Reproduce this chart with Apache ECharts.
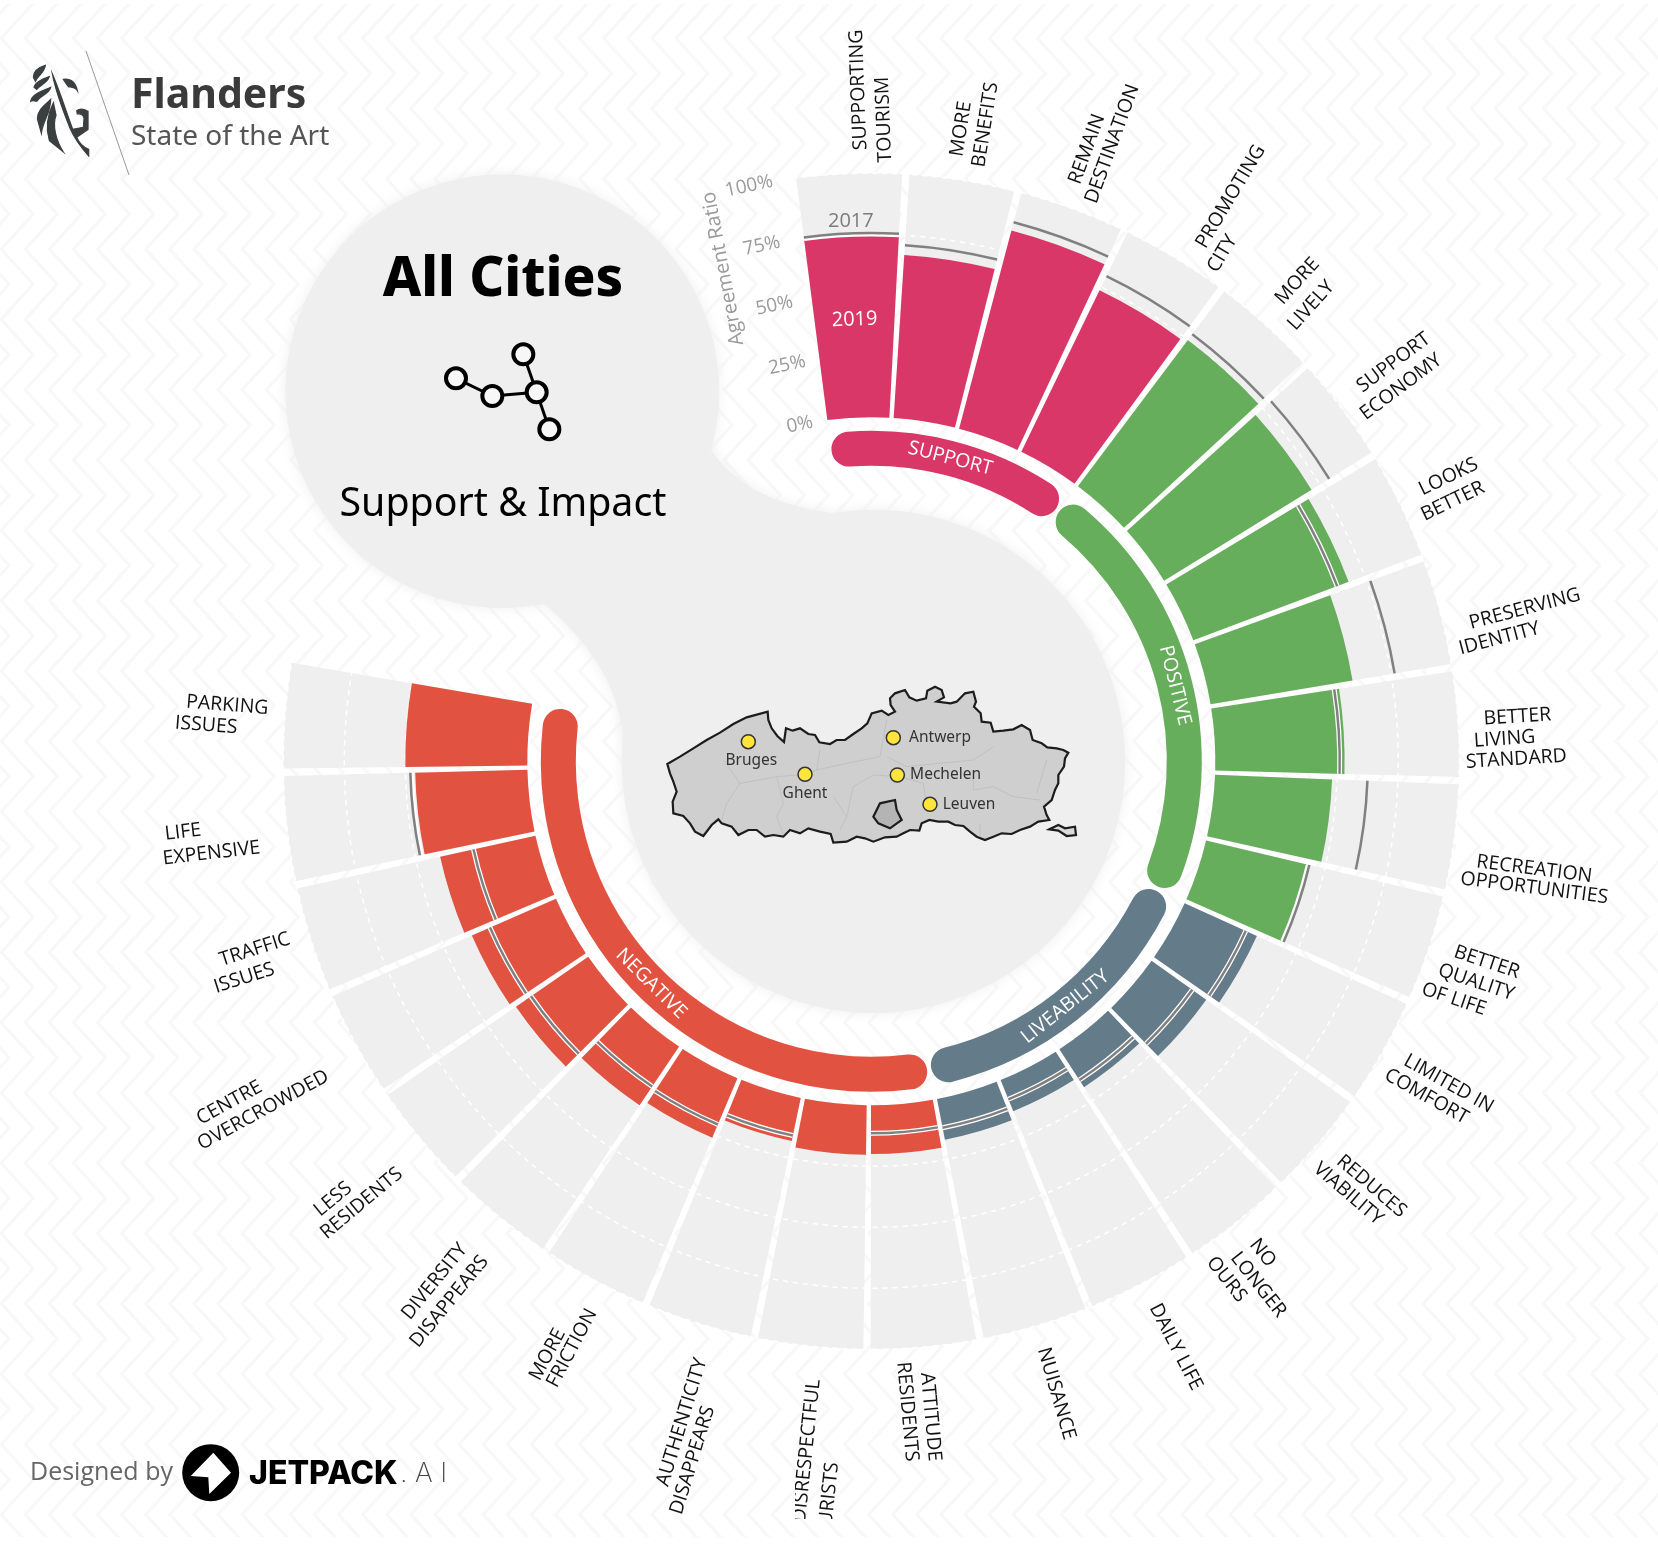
<!DOCTYPE html>
<html>
<head>
<meta charset="utf-8">
<title>All Cities - Support & Impact</title>
<script src="https://cdn.jsdelivr.net/npm/echarts@6/dist/echarts.min.js"></script>
<style>html,body{margin:0;padding:0;background:#fff}#chart{width:1658px;height:1548px}</style>
</head>
<body>
<div id="chart"></div>
<script>
// Survey statements, clockwise from the top of the ring
const categories = [
  'SUPPORTING TOURISM','MORE BENEFITS','REMAIN DESTINATION','PROMOTING CITY',
  'MORE LIVELY','SUPPORT ECONOMY','LOOKS BETTER','PRESERVING IDENTITY','BETTER LIVING STANDARD','RECREATION OPPORTUNITIES','BETTER QUALITY OF LIFE',
  'LIMITED IN COMFORT','REDUCES VIABILITY','NO LONGER OURS','DAILY LIFE','NUISANCE',
  'ATTITUDE RESIDENTS','DISRESPECTFUL TOURISTS','AUTHENTICITY DISAPPEARS','MORE FRICTION','DIVERSITY DISAPPEARS','LESS RESIDENTS','CENTRE OVERCROWDED','TRAFFIC ISSUES','LIFE EXPENSIVE','PARKING ISSUES'
];
// Agreement ratio in percent
const agreement2019 = [74.5,67,84,73.5, 75,71,68,59,53,48,42.5, 32.5,27.5,18.5,13.8,17, 20,20.3,18,26.5,29,36,37.6,40,46,50];
const agreement2017 = [75.5,71,87.5,80, 78,79.5,63,76.5,51,62.5,43.5, 27.5,20.5,15,8.5,12, 11.5,null,15.7,20.6,19.7,28.5,29.5,26,48,null];
const scaleMaximum = categories.map(() => 100);
const ratioTicks = [0, 25, 50, 75, 100];

const groupNames = ['SUPPORT','POSITIVE','LIVEABILITY','NEGATIVE'];
const groupSizes = [4, 7, 5, 10];
const groupColors = ['#d93767','#67ae5c','#647b8a','#e25241'];
const groupLabelAngles = [14.6, 76, 141.7, 224.7];

// Map: outline traced in local map units, x to the right and y downwards
const flandersOutline = [[82,312],[120,290],[160,265],[200,240],[240,218],[280,192],[320,172],[383,155],[385,180],[395,205],[412,228],[432,246],[438,205],[458,212],[480,205],[505,222],[525,225],[538,247],[570,252],[590,240],[615,240],[640,222],[665,205],[682,190],[695,160],[725,152],[745,165],[765,155],[752,135],[750,115],[765,100],[795,90],[808,112],[830,122],[858,115],[862,92],[885,80],[905,90],[912,112],[890,125],[932,130],[950,125],[975,100],[1000,95],[1008,125],[1002,140],[1022,160],[1025,185],[1052,188],[1060,215],[1090,212],[1120,208],[1145,195],[1170,210],[1178,240],[1205,250],[1222,262],[1250,265],[1270,270],[1285,278],[1275,295],[1272,320],[1255,345],[1255,370],[1245,390],[1235,420],[1212,440],[1220,465],[1228,480],[1195,485],[1170,500],[1140,510],[1115,522],[1085,520],[1060,530],[1035,540],[1010,530],[990,515],[970,498],[945,495],[925,485],[895,485],[868,480],[845,490],[838,512],[810,510],[790,520],[770,530],[735,532],[700,545],[675,535],[650,530],[620,545],[580,548],[572,522],[540,515],[505,505],[480,520],[450,510],[430,530],[400,525],[375,530],[350,510],[325,510],[295,525],[275,500],[245,490],[235,478],[215,495],[190,528],[165,515],[150,490],[130,468],[100,460],[98,425],[110,395],[100,365],[90,340],[82,312]];
const brusselsOutline = [[700,470],[720,430],[765,420],[770,450],[785,480],[750,505],[715,490],[700,470]];
const voerenOutline = [[1228,508],[1255,495],[1275,505],[1305,500],[1308,525],[1280,528],[1255,512],[1228,508]];
const provinceBorders = [
  [[250,300],[300,370],[260,430],[245,480]],
  [[300,370],[410,350],[475,345]],
  [[410,350],[430,430],[410,470],[430,525]],
  [[540,270],[530,330],[495,345]],
  [[530,330],[620,310],[720,290],[740,180]],
  [[580,410],[620,470],[600,510]],
  [[620,470],[640,380],[700,345],[780,350],[850,370],[860,440]],
  [[740,290],[800,320],[1000,300],[1060,260]],
  [[1000,340],[1000,390],[1060,380],[1120,410],[1200,420]],
  [[1020,490],[1020,530]],
  [[1190,400],[1220,300]]
];
const cityNames = ['Bruges','Ghent','Antwerp','Mechelen','Leuven'];
const cityPoints = [[325,245],[495,343],[760,233],[772,345],[870,433]];
const cityLabelSides = ['bottom','bottom','right','right','right'];
const cityLabelGaps = [3, 3, 8, 5, 5];

// Category label lines: text plus line centre, in a 1568-wide layout grid
const LAYOUT = 1658 / 1568;
const labelLines = [
  [['SUPPORTING',812,85],['TOURISM',836,113]],
  [['MORE',909,122],['BENEFITS',932,118]],
  [['REMAIN',1028,141],['DESTINATION',1052,136]],
  [['PROMOTING',1164,186],['CITY',1156,240]],
  [['MORE',1227,266],['LIVELY',1240,289]],
  [['SUPPORT',1318,343],['ECONOMY',1325,366]],
  [['LOOKS',1370,451],['BETTER',1374,474]],
  [['PRESERVING',1442,576],['IDENTITY',1418,604]],
  [['BETTER',1435,678],['LIVING',1423,699],['STANDARD',1434,718]],
  [['RECREATION',1451,822],['OPPORTUNITIES',1451,840]],
  [['BETTER',1406,910],['QUALITY',1396,929],['OF LIFE',1375,945]],
  [['LIMITED IN',1370,1025],['COMFORT',1349,1037]],
  [['REDUCES',1297,1122],['VIABILITY',1275,1129]],
  [['NO',1194,1185],['LONGER',1190,1215],['OURS',1160,1210]],
  [['DAILY LIFE',1112,1274]],
  [['NUISANCE',999,1318]],
  [['ATTITUDE',880,1340],['RESIDENTS',858,1335]],
  [['DISRESPECTFUL',763,1372],['TOURISTS',783,1425]],
  [['AUTHENTICITY',645,1345],['DISAPPEARS',655,1381]],
  [['MORE',518,1281],['FRICTION',541,1275]],
  [['DIVERSITY',411,1212],['DISAPPEARS',425,1231]],
  [['LESS',315,1134],['RESIDENTS',342,1138]],
  [['CENTRE',217,1043],['OVERCROWDED',249,1050]],
  [['TRAFFIC',241,898],['ISSUES',231,925]],
  [['LIFE',173,787],['EXPENSIVE',200,807]],
  [['PARKING',215,667],['ISSUES',195,686]]
];

// Ring geometry
const CENTER = [871.3, 761.3];
const RADII = [344, 588];
const ARC_FIRST = -7.7;      // degrees clockwise from north where the ring starts
const ARC_SPAN = 287.7;      // degrees covered by all the statements
const BAND = ARC_SPAN / categories.length;
const BAR_GAP_DEG = BAND * 0.065;
const DEG = Math.PI / 180;
const bandEdge = i => ARC_FIRST + i * BAND;
const toCanvas = deg => (deg - 90) * DEG;

const groupOfCategory = [];
groupSizes.forEach((n, g) => { for (let k = 0; k < n; k++) groupOfCategory.push(g); });

// Faint chevron wallpaper behind the chart
function chevronWallpaper() {
  const c = document.createElement('canvas');
  c.width = 1658; c.height = 1548;
  const g = c.getContext('2d');
  g.fillStyle = '#fff';
  g.fillRect(0, 0, c.width, c.height);
  g.save();
  g.beginPath(); g.rect(0, 4, c.width, 1533); g.clip();
  g.strokeStyle = '#f8f8f8';
  g.lineWidth = 3;
  const periodY = 70.3;
  for (let x0 = -47; x0 < 1700; x0 += 24.1) {
    g.beginPath();
    for (let k = -1; k < 24; k++) {
      const y = 38.3 + k * periodY;
      if (k === -1) g.moveTo(x0, y); else g.lineTo(x0, y);
      g.lineTo(x0 + 32, y + periodY / 2);
    }
    g.stroke();
  }
  g.restore();
  return c;
}

const S = v => v * LAYOUT;
const blobStyle = {fill: '#efefef', shadowBlur: 14, shadowColor: '#efefef'};

// Cubic bezier sampled to points, for the neck joining the two soft discs
function bezierPoints(p0, p1, p2, p3) {
  const out = [];
  for (let k = 0; k <= 24; k++) {
    const t = k / 24, u = 1 - t;
    out.push([
      S(u*u*u*p0[0] + 3*u*u*t*p1[0] + 3*u*t*t*p2[0] + t*t*t*p3[0]),
      S(u*u*u*p0[1] + 3*u*u*t*p1[1] + 3*u*t*t*p2[1] + t*t*t*p3[1])
    ]);
  }
  return out;
}
const neckPoints = bezierPoints([672,425],[700,465],[740,478],[785,485])
  .concat(bezierPoints([590,700],[585,650],[560,610],[515,571]));

const lionPath = [
  'M76 46C56 52 40 64 40 82L46 94C52 78 72 70 76 46Z',
  'M88 80C66 88 46 96 42 112L50 118C58 106 82 100 88 80Z',
  'M92 112C66 122 34 134 32 154C42 148 48 158 52 152C60 136 86 134 92 112Z',
  'M92 148C76 165 52 180 52 206L64 250C68 214 92 190 92 148Z',
  'M100 158C84 190 76 232 88 272L130 306C108 272 96 226 108 196Z',
  'M97 72C104 110 120 160 150 235C165 270 190 300 206 318L206 298C190 292 178 282 170 262L204 238L204 184C190 176 178 176 170 182L172 192C182 190 192 196 192 206L190 232L158 238C140 190 120 125 97 72Z',
  'M130 88C145 85 165 90 172 122C165 110 150 112 145 110C140 105 135 95 130 88Z'
].join('');
const networkNodes = [[528,655],[637,708],[770,697],[730,583],[808,808]];
const networkLinks = [[0,1],[1,2],[2,3],[2,4]];
const netPt = p => [280 + p[0] / 3, 160 + p[1] / 3];

const graphicElements = [
  {type:'circle', shape:{cx:S(475), cy:S(370), r:S(205)}, style:blobStyle},
  {type:'circle', shape:{cx:S(826), cy:S(720), r:S(238)}, style:blobStyle},
  {type:'polygon', shape:{points:neckPoints}, style:blobStyle},

  {type:'text', x:503, y:280, style:{text:'All Cities', font:'800 54.5px "Noto Sans"', fill:'#000', align:'center', verticalAlign:'middle'}},
  {type:'text', x:503, y:505, style:{text:'Support & Impact', font:'400 39.3px "Noto Sans"', fill:'#000', align:'center', verticalAlign:'middle'}},

  {type:'text', x:S(684), y:S(254), rotation:100.7*DEG, style:{text:'Agreement Ratio', font:'400 20px "Open Sans"', fill:'#9a9a9a', align:'center', verticalAlign:'middle'}},

  {type:'line', shape:{x1:86,y1:51,x2:129,y2:175}, style:{stroke:'#999', lineWidth:1}},
  {type:'text', x:131, y:96, style:{text:'Flanders', font:'700 41px "Noto Sans"', fill:'#3a3a3a', align:'left', verticalAlign:'middle'}},
  {type:'text', x:131, y:137, style:{text:'State of the Art', font:'400 28px "Noto Sans"', fill:'#555', align:'left', verticalAlign:'middle'}},

  {type:'text', x:30, y:1473, style:{text:'Designed by', font:'400 25px "Open Sans"', fill:'#666', align:'left', verticalAlign:'middle'}},
  {type:'circle', shape:{cx:210.7, cy:1472.7, r:28.5}, style:{fill:'#000'}},
  {type:'polygon', shape:{points:[[213.3,1452.7],[231,1472.7],[209.3,1494],[208.3,1477.3],[190.7,1476]]}, style:{fill:'#fff'}},
  {type:'text', x:249, y:1474, style:{text:'JETPACK', font:'800 32px Inter', fill:'#000', align:'left', verticalAlign:'middle'}},
  {type:'text', x:400, y:1474, style:{text:'. A I', font:'200 27px Inter', fill:'#444', align:'left', verticalAlign:'middle'}}
];
networkLinks.forEach(l => {
  const a = netPt(networkNodes[l[0]]), b = netPt(networkNodes[l[1]]);
  graphicElements.push({type:'line', shape:{x1:a[0],y1:a[1],x2:b[0],y2:b[1]}, style:{stroke:'#000', lineWidth:3}});
});
networkNodes.forEach(n => {
  const p = netPt(n);
  graphicElements.push({type:'circle', shape:{cx:p[0], cy:p[1], r:10}, style:{fill:'#f7f7f7', stroke:'#000', lineWidth:4}});
});

// Map regions in local units; y is negated because geo latitudes grow upward
const ring = pts => pts.map(p => [p[0], -p[1]]);
const feature = (name, pts) => ({type:'Feature', properties:{name}, geometry:{type:'Polygon', coordinates:[ring(pts)]}});
echarts.registerMap('flanders', {type:'FeatureCollection', features:[
  feature('Flanders', flandersOutline),
  feature('Brussels', brusselsOutline),
  feature('Voeren', voerenOutline)
]});

const chart = echarts.init(document.getElementById('chart'), null, {renderer:'canvas'});

chart.setOption({
  animation: false,
  backgroundColor: {image: chevronWallpaper(), repeat: 'no-repeat'},
  graphic: {elements: graphicElements},
  polar: [
    {center: CENTER, radius: RADII},
    {center: CENTER, radius: RADII}
  ],
  angleAxis: [
    {polarIndex:0, type:'category', data:categories, startAngle:90 - ARC_FIRST, endAngle:90 - ARC_FIRST - ARC_SPAN, clockwise:true, show:false, boundaryGap:true},
    {polarIndex:1, type:'value', min:0, max:360, startAngle:102, show:false}
  ],
  radiusAxis: [
    {polarIndex:0, type:'value', min:0, max:100, interval:25, z:2,
      axisLine:{show:false}, axisTick:{show:false}, axisLabel:{show:false},
      splitLine:{show:true, showMinLine:false, showMaxLine:false, lineStyle:{color:'#fff', width:1.5, type:[5,5]}}},
    {polarIndex:1, type:'value', min:ratioTicks[0], max:ratioTicks[ratioTicks.length-1], interval:25, z:5,
      axisLine:{show:false}, axisTick:{show:false}, splitLine:{show:false},
      axisLabel:{show:true, formatter:'{value}%', rotate:12, margin:0, align:'center', verticalAlign:'middle',
        color:'#9a9a9a', fontFamily:'Open Sans', fontSize:19}}
  ],
  geo: {
    map:'flanders', roam:false, silent:true, z:2,
    aspectScale:1,
    boundingCoords:[[0,0],[1380,-600]],
    left:640, top:660, width:460, height:200,
    itemStyle:{areaColor:'#cfcfcf', borderColor:'#1c1c1c', borderWidth:2.2},
    regions:[
      {name:'Brussels', itemStyle:{areaColor:'#b4b4b4'}},
      {name:'Voeren', itemStyle:{areaColor:'#dadada'}}
    ],
    label:{show:false},
    emphasis:{disabled:true}
  },
  series: [
    // Light full-height bars that form the 0-100 track
    {type:'bar', name:'Scale', coordinateSystem:'polar', polarIndex:0, data:scaleMaximum, z:1,
      barCategoryGap:'6.5%', barGap:'-100%', silent:true, itemStyle:{color:'#efefef'}},
    // 2019 agreement bars
    {type:'bar', name:'2019', coordinateSystem:'polar', polarIndex:0, data:agreement2019, z:3,
      barCategoryGap:'6.5%', barGap:'-100%', silent:true,
      itemStyle:{color: p => groupColors[groupOfCategory[p.dataIndex]]},
      label:{show:true, position:'middle', offset:[0,-7],
        formatter: p => p.dataIndex === 0 ? '2019' : '',
        color:'#fff', fontFamily:'Open Sans', fontWeight:500, fontSize:20}},
    // 2017 reference line across each bar
    {type:'custom', name:'2017', coordinateSystem:'polar', polarIndex:0, z:4, silent:true,
      data: agreement2017.map((v, i) => v == null ? null : [v, i]).filter(Boolean),
      renderItem(params, api) {
        const v = api.value(0), i = api.value(1);
        const c = api.coord([v, i]);
        const cs = params.coordSys;
        const a0 = toCanvas(bandEdge(i) + BAR_GAP_DEG / 2), a1 = toCanvas(bandEdge(i + 1) - BAR_GAP_DEG / 2);
        const arc = {cx:cs.cx, cy:cs.cy, r:c[2], startAngle:a0, endAngle:a1, clockwise:true};
        const children = [];
        if (v <= agreement2019[i]) {
          children.push({type:'arc', shape:arc, style:{fill:'none', stroke:'#fff', lineWidth:5}});
        } else if (v - agreement2019[i] < 3) {
          children.push({type:'arc', shape:{...arc, r:c[2] - 2.5}, style:{fill:'none', stroke:'#fff', lineWidth:2}});
        }
        children.push({type:'arc', shape:arc, style:{fill:'none', stroke:'#808080', lineWidth:2.5}});
        if (i === 0) {
          const mid = (bandEdge(0) + bandEdge(1)) / 2 * DEG;
          const r = c[2] + 12.5;
          children.push({type:'text', x:cs.cx + Math.sin(mid) * r, y:cs.cy - Math.cos(mid) * r,
            style:{text:'2017', font:'500 20px "Open Sans"', fill:'#7c7c7c', align:'center', verticalAlign:'middle'}});
        }
        return {type:'group', children};
      }
    },
    // Rounded theme bands just inside the ring
    {type:'custom', name:'Themes', coordinateSystem:'polar', polarIndex:0, z:3, silent:true,
      data: groupNames.map((n, g) => [0, g]),
      renderItem(params, api) {
        const g = api.value(1);
        const cs = params.coordSys;
        const first = groupSizes.slice(0, g).reduce((a, b) => a + b, 0);
        const inset = 3.6, r = cs.r0 - 31;
        const a0 = bandEdge(first) + inset, a1 = bandEdge(first + groupSizes[g]) - inset;
        const mid = groupLabelAngles[g];
        const rot = mid > 90 ? 180 - mid : -mid;
        return {type:'group', children:[
          {type:'arc', shape:{cx:cs.cx, cy:cs.cy, r, startAngle:toCanvas(a0), endAngle:toCanvas(a1), clockwise:true},
            style:{fill:'none', stroke:groupColors[g], lineWidth:35, lineCap:'round'}},
          {type:'text', x:cs.cx + Math.sin(mid * DEG) * r, y:cs.cy - Math.cos(mid * DEG) * r, rotation:rot * DEG,
            style:{text:groupNames[g], font:'500 19.5px "Open Sans"', fill:'#fff', align:'center', verticalAlign:'middle'}}
        ]};
      }
    },
    // Statement labels, turned to follow the ring
    {type:'custom', name:'Statements', coordinateSystem:'polar', polarIndex:0, z:4, silent:true,
      data: categories.map((n, i) => [100, i]),
      renderItem(params, api) {
        const i = api.value(1);
        const mid = bandEdge(i + 0.5);
        const rot = mid < 180 ? 90 - mid : 270 - mid;
        const group = {type:'group', children: labelLines[i].map(l => ({
          type:'text', x:S(l[1]), y:S(l[2]), rotation:rot * DEG,
          style:{text:l[0], font:'400 19.5px "Open Sans"', fill:'#111', align:'center', verticalAlign:'middle'}
        }))};
        if (categories[i] === 'DISRESPECTFUL TOURISTS') {
          group.clipPath = {type:'rect', shape:{x:795, y:1300, width:60, height:219}};
        }
        return group;
      }
    },
    // Lion emblem beside the wordmark
    {type:'custom', name:'Emblem', coordinateSystem:'none', silent:true, z:1, data:[[0]],
      renderItem() {
        return {type:'path', shape:{pathData:lionPath, layout:'cover', x:30.7, y:65.3, width:58, height:90.7},
          style:{fill:'#3a3f3f', stroke:'#3a3f3f', lineWidth:1.2}};
      }
    },
    // Provincial borders inside the map
    {type:'lines', coordinateSystem:'geo', polyline:true, z:3, silent:true,
      data: provinceBorders.map(b => ({coords: ring(b)})),
      lineStyle:{color:'#bdbdbd', width:0.8, opacity:1}},
    // City markers
    {type:'scatter', coordinateSystem:'geo', z:4, silent:true, symbolSize:14,
      data: cityNames.map((name, i) => ({
        name, value: [cityPoints[i][0], -cityPoints[i][1]],
        label:{show:true, position:cityLabelSides[i], formatter:name, distance:cityLabelGaps[i],
          color:'#333', fontFamily:'Noto Sans', fontSize:15.5,
          offset: i === 0 ? [3,0] : [0,0]}
      })),
      itemStyle:{color:'#ffe53b', borderColor:'#333', borderWidth:1.5, opacity:1}}
  ]
});
</script>
</body>
</html>
